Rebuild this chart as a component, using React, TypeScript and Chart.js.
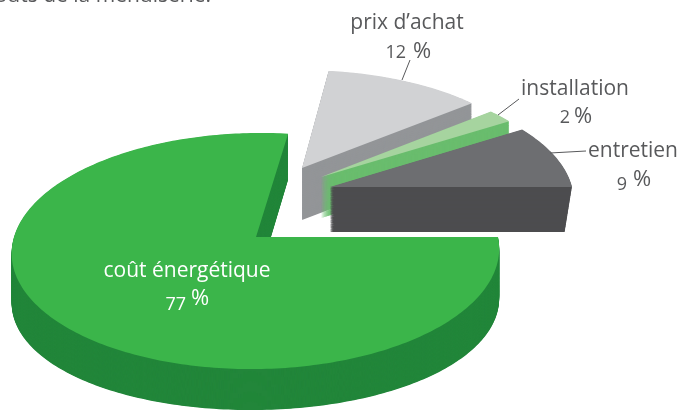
import React, { useEffect, useRef } from "react";
import { Chart, registerables } from "chart.js";

Chart.register(...registerables);

// ---- data ----
const categories = ["prix d’achat", "installation", "entretien", "coût énergétique"];
const shares = [12, 2, 9, 77];
const faceColors = ["#D1D2D4", "#A6D49F", "#6D6E71", "#3BB54A"];
const wallColors = ["#939598", "#6ABD6E", "#4D4D4F", "#22863A"];
const clippedTitle = "coûts de la menuiserie.";

// ---- layout of the 3D projection (styling, not data) ----
const PIE = { x0: 256, y0: 237, A: 242, B: 116.4, k: 0.1187 };
const explode = [
  { dx: 46, dy: -69, rx: 0.98, ry: 0.94, shear: 0, depth: (_v: number) => 52, narrow: 1 },
  { dx: 65, dy: -60, rx: 0.98, ry: 0.95, shear: 0, depth: (_v: number) => 41, narrow: 1 },
  { dx: 74, dy: -50, rx: 1, ry: 0.98, shear: 0, depth: (_v: number) => 45, narrow: 0.97 },
  { dx: 0, dy: 0, rx: 1, ry: 1, shear: 5, depth: (v: number) => 50 - 2.5 * v - 6.5 * v * v, narrow: 1 },
];
const labelLayout = [
  { nameX: 407, nameY: 29, numX: 406, numY: 58, pctX: 413, pctY: 58, color: "#58595B" },
  { nameX: 575, nameY: 95, numX: 570, numY: 123, pctX: 574, pctY: 123, color: "#58595B" },
  { nameX: 633, nameY: 157, numX: 627, numY: 190, pctX: 633, pctY: 186, color: "#58595B" },
  { nameX: 187, nameY: 277, numX: 186, numY: 310, pctX: 191, pctY: 305, color: "#FFFFFF" },
];
const leaders = [
  [410, 60, 402, 80],
  [519, 99, 498, 115],
  [586, 151, 550, 153],
];
const FONT = '"Open Sans", sans-serif';

function slicePath(el: any, i: number, t: number) {
  const { dx, dy, rx, ry, shear, depth, narrow } = explode[i];
  const pts: [number, number][] = [];
  const n = Math.max(4, Math.ceil(((el.endAngle - el.startAngle) * 180) / Math.PI));
  const project = (u: number, v: number): [number, number] => {
    const w = 1 - PIE.k * v;
    const px = (PIE.A * rx * u) / w - shear * v;
    const py = (PIE.B * ry * v) / w;
    const nx = 1 + (narrow - 1) * t;
    return [PIE.x0 + dx + px * nx, PIE.y0 + dy + py + depth(v) * t];
  };
  pts.push(project(0, 0));
  for (let s = 0; s <= n; s++) {
    const a = el.startAngle + ((el.endAngle - el.startAngle) * s) / n;
    pts.push(project(Math.cos(a), Math.sin(a)));
  }
  return pts;
}

function fillPoly(ctx: CanvasRenderingContext2D, pts: [number, number][], color: string) {
  ctx.beginPath();
  pts.forEach(([x, y], j) => (j ? ctx.lineTo(x, y) : ctx.moveTo(x, y)));
  ctx.closePath();
  ctx.fillStyle = color;
  ctx.fill();
}

const pie3d = {
  id: "pie3d",
  beforeDatasetsDraw(chart: any) {
    const ctx = chart.ctx as CanvasRenderingContext2D;
    const meta = chart.getDatasetMeta(0);
    const ds = chart.data.datasets[0];
    meta.data.forEach((el: any, i: number) => {
      const steps = 80;
      for (let s = steps; s > 0; s--) fillPoly(ctx, slicePath(el, i, s / steps), ds.wallColors[i]);
      fillPoly(ctx, slicePath(el, i, 0), el.options.backgroundColor);
    });
    return false;
  },
  afterDraw(chart: any) {
    const ctx = chart.ctx as CanvasRenderingContext2D;
    ctx.save();
    ctx.strokeStyle = "#58595B";
    ctx.lineWidth = 1;
    leaders.forEach(([a, b, c, d]) => {
      ctx.beginPath();
      ctx.moveTo(a, b);
      ctx.lineTo(c, d);
      ctx.stroke();
    });
    ctx.textBaseline = "alphabetic";
    ctx.fillStyle = "#58595B";
    ctx.textAlign = "right";
    ctx.font = `21px ${FONT}`;
    ctx.fillText(clippedTitle, 211, 2);
    categories.forEach((name, i) => {
      const l = labelLayout[i];
      ctx.fillStyle = l.color;
      ctx.font = `21px ${FONT}`;
      ctx.textAlign = "center";
      ctx.fillText(name, l.nameX, l.nameY);
      ctx.font = `18px ${FONT}`;
      ctx.textAlign = "right";
      ctx.fillText(String(shares[i]), l.numX, l.numY);
      ctx.font = `22px ${FONT}`;
      ctx.textAlign = "left";
      ctx.fillText("%", l.pctX, l.pctY);
    });
    ctx.restore();
  },
};

export default function App() {
  const ref = useRef<HTMLCanvasElement>(null);
  useEffect(() => {
    const chart = new Chart(ref.current!, {
      type: "pie",
      data: {
        labels: categories,
        datasets: [
          {
            data: shares,
            backgroundColor: faceColors,
            borderWidth: 0,
            wallColors,
          } as any,
        ],
      },
      options: {
        responsive: false,
        animation: false,
        rotation: 7.2,
        plugins: { legend: { display: false }, tooltip: { enabled: false } },
      },
      plugins: [pie3d],
    });
    return () => chart.destroy();
  }, []);
  return (
    <div style={{ position: "absolute", left: 0, top: 0, width: 686, height: 410, overflow: "hidden", background: "#fff" }}>
      <canvas ref={ref} width={686} height={410} style={{ display: "block" }} />
    </div>
  );
}
